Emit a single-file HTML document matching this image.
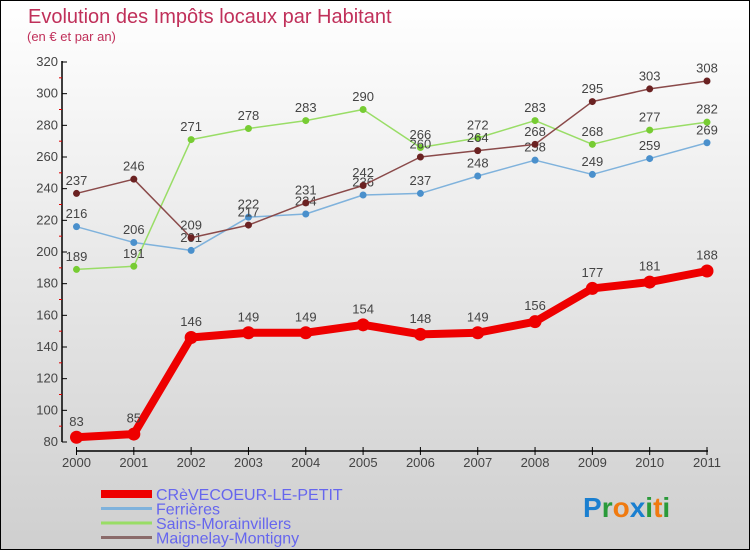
<!DOCTYPE html>
<html><head><meta charset="utf-8"><style>
body{margin:0}
#c{width:750px;height:550px;position:relative;box-sizing:border-box;border:1px solid #000;background:linear-gradient(#fff,#cfcfcf);font-family:"Liberation Sans","DejaVu Sans",sans-serif;overflow:hidden}
</style></head><body>
<div id="c">
<svg id="s" width="750" height="550" style="position:absolute;left:0;top:0"></svg>
</div>
<script>
const years=["2000","2001","2002","2003","2004","2005","2006","2007","2008","2009","2010","2011"];
const yTicks=[80,100,120,140,160,180,200,220,240,260,280,300,320];
const crev=[83,85,146,149,149,154,148,149,156,177,181,188];
const ferr=[216,206,201,222,224,236,237,248,258,249,259,269];
const sains=[189,191,271,278,283,290,266,272,283,268,277,282];
const maig=[237,246,209,217,231,242,260,264,268,295,303,308];
const s=document.getElementById('s');const NS='http://www.w3.org/2000/svg';
function X(i){return 75.5+i*(706-75.5)/11}
function Y(v){return 441-(v-80)*380/240}
function el(t,a,txt){const e=document.createElementNS(NS,t);for(const k in a)e.setAttribute(k,a[k]);if(txt!=null)e.textContent=txt;s.appendChild(e);return e}
let e;
e=el('text',{x:27,y:22,fill:'#c0305a','font-size':20},'Evolution des Impôts locaux par Habitant');


e=el('text',{x:26,y:40,fill:'#c0305a','font-size':13},'(en € et par an)');


e=el('line',{x1:61,y1:60,x2:61,y2:441,stroke:'#000','stroke-width':1.5});


yTicks.forEach((v,i)=>{
 e=el('line',{x1:61,y1:Y(v),x2:66,y2:Y(v),stroke:'#000'});
 
 
 if(i<yTicks.length-1){e=el('line',{x1:58,y1:Y(v+10),x2:61,y2:Y(v+10),stroke:'#d00'});
 
 }
 e=el('text',{x:57,y:Y(v)+4,'text-anchor':'end','font-size':13,fill:'#444'},v);
 
 
});
e=el('line',{x1:75,y1:450,x2:707,y2:450,stroke:'#000','stroke-width':1.5});


years.forEach((y,i)=>{
 e=el('line',{x1:X(i),y1:446,x2:X(i),y2:454,stroke:'#000'});
 
 
 e=el('text',{x:X(i),y:466,'text-anchor':'middle','font-size':13,fill:'#444'},y);
 
 
});
function series(d,name,lc,pc,w,r){
 e=el('polyline',{points:d.map((v,i)=>X(i)+','+Y(v)).join(' '),fill:'none',stroke:lc,'stroke-width':w,'stroke-linejoin':'round'});
 
 
 d.forEach((v,i)=>{
  e=el('circle',{cx:X(i),cy:Y(v),r:r,fill:pc});
  
  
  e=el('text',{x:X(i),y:Y(v)-(r+5),'text-anchor':'middle','font-size':13,fill:'#444'},v);
  
  
 });
}
series(ferr,'ferrieres','#7fb2dc','#4a90cc',1.5,3.5);
series(sains,'sains-morainvillers','#99dd66','#77cc33',1.5,3.5);
series(maig,'maignelay-montigny','#8a4a4a','#6b2222',1.5,3.5);
series(crev,'crevecoeur-le-petit','#ee0000','#ee0000',8,6.5);
const leg=[['CRèVECOEUR-LE-PETIT','#ee0000',8],['Ferrières','#7fb2dc',3],['Sains-Morainvillers','#99dd66',3],['Maignelay-Montigny','#8a6a6a',3]];
leg.forEach((l,i)=>{
 const y=493+i*14.5;
 e=el('line',{x1:100,y1:y,x2:151,y2:y,stroke:l[1],'stroke-width':l[2]});
 
 
 e=el('text',{x:155,y:y+6,'font-size':16,fill:'#6666ee'},l[0]);
 
 
});
e=el('text',{x:582,y:516,'font-size':28,'font-weight':'bold'});


[['P','#1a7fd0'],['r','#2a9a3a'],['o','#f07a10'],['x','#1a7fd0'],['i','#2a9a3a'],['t','#f07a10'],['i','#2a9a3a']].forEach(c=>{const t=document.createElementNS(NS,'tspan');t.setAttribute('fill',c[1]);t.textContent=c[0];e.appendChild(t);});
</script>
</body></html>
